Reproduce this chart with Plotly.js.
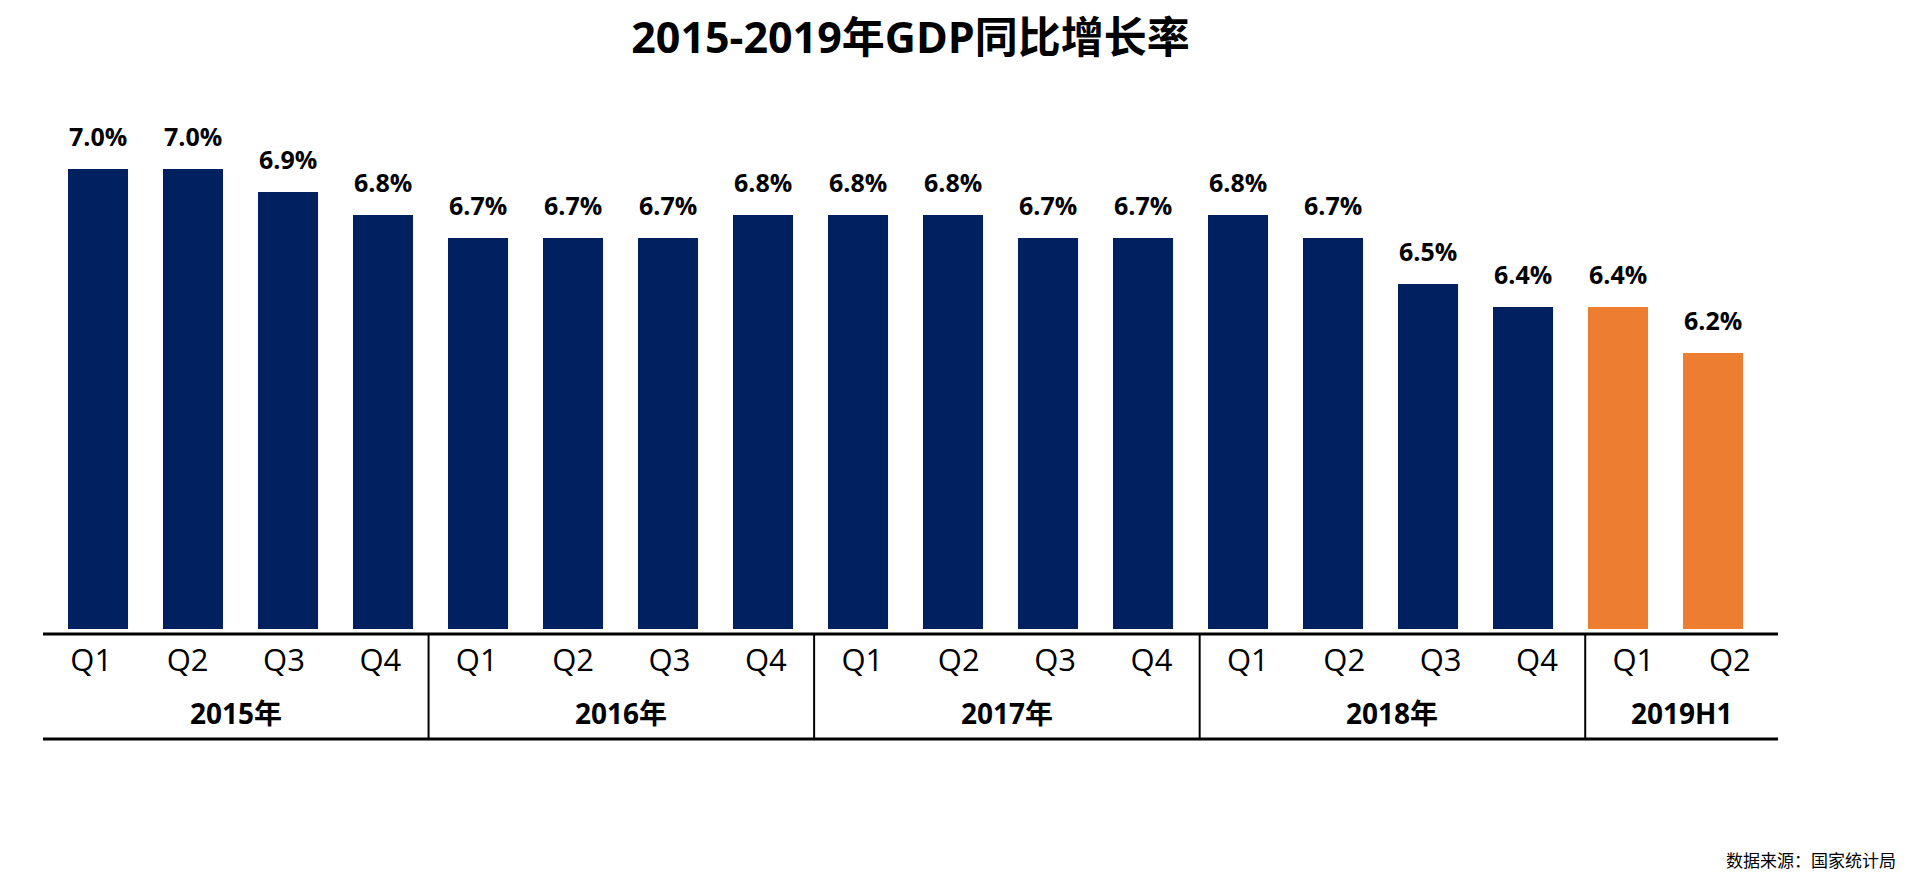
<!DOCTYPE html>
<html>
<head>
<meta charset="utf-8">
<script src="https://cdn.plot.ly/plotly-3.0.1.min.js"></script>
<style>
  html, body { margin: 0; padding: 0; background: #fff; }
  #chart { width: 1914px; height: 879px; }
</style>
</head>
<body>
<div id="chart"></div>
<script>
// 数据：季度GDP同比增长率（%）
const yearLabels = ['2015年', '2016年', '2017年', '2018年', '2019H1'];
const quartersPerYear = [4, 4, 4, 4, 2];
const quarterLabels = ['Q1', 'Q2', 'Q3', 'Q4', 'Q1', 'Q2', 'Q3', 'Q4', 'Q1', 'Q2', 'Q3', 'Q4',
                       'Q1', 'Q2', 'Q3', 'Q4', 'Q1', 'Q2'];
const growth = [7.0, 7.0, 6.9, 6.8, 6.7, 6.7, 6.7, 6.8, 6.8, 6.8, 6.7, 6.7,
                6.8, 6.7, 6.5, 6.4, 6.4, 6.2];
const highlightYear = '2019H1';

const navy = '#002060';
const orange = '#ED7D31';
const fontFamily = 'Open Sans, Noto Sans CJK SC, sans-serif';

// 每根柱子的类别键（年份+季度）与所属年份
let periods = [];
let periodYear = [];
let k = 0;
for (let i = 0; i < yearLabels.length; i++) {
  for (let j = 0; j < quartersPerYear[i]; j++) {
    periods.push(yearLabels[i] + ' ' + quarterLabels[k]);
    periodYear.push(yearLabels[i]);
    k++;
  }
}
let barColors = periodYear.map(y => (y == highlightYear ? orange : navy));
let slotIndex = periods.map((p, i) => i);

// 柱子用的x轴范围（类别序号），标签表格用均分的第二根轴
const xMin = -0.579;
const xMax = periods.length - 1 + 0.684;

var trace = {
  type: 'bar',
  x: periods,
  y: growth,
  marker: { color: barColors },
  hoverinfo: 'x+y'
};

// 柱顶数值标签
let annotations = [];
for (let i = 0; i < periods.length; i++) {
  annotations.push({
    x: periods[i],
    y: growth[i],
    xref: 'x',
    yref: 'y',
    text: '<b>' + growth[i].toFixed(1) + '%</b>',
    showarrow: false,
    yanchor: 'middle',
    yshift: 33,
    font: { family: fontFamily, size: 25, color: '#000' }
  });
}

// 年份分组：分隔线与年份标签
const lineTop = -0.0095;     // 坐标轴线
const lineBottom = -0.208;   // 底部横线
let shapes = [
  { type: 'line', xref: 'paper', yref: 'paper', x0: 0, x1: 1, y0: lineTop, y1: lineTop,
    line: { color: '#000', width: 3 } },
  { type: 'line', xref: 'paper', yref: 'paper', x0: 0, x1: 1, y0: lineBottom, y1: lineBottom,
    line: { color: '#000', width: 3 } }
];
let start = 0;
for (let i = 0; i < yearLabels.length; i++) {
  let end = start + quartersPerYear[i];
  if (i < yearLabels.length - 1) {
    shapes.push({
      type: 'line', xref: 'x2', yref: 'paper', x0: end - 0.5, x1: end - 0.5,
      y0: lineTop, y1: lineBottom, line: { color: '#000', width: 2 }
    });
  }
  annotations.push({
    x: (start + end - 1) / 2,
    y: -0.159,
    xref: 'x2',
    yref: 'paper',
    text: '<b>' + yearLabels[i] + '</b>',
    showarrow: false,
    yanchor: 'middle',
    font: { family: fontFamily, size: 28, color: '#000' }
  });
  start = end;
}

// 数据来源
annotations.push({
  x: 1.069, y: -0.435, xref: 'paper', yref: 'paper',
  xanchor: 'right', yanchor: 'middle',
  text: '数据来源：国家统计局',
  showarrow: false,
  font: { family: 'Noto Sans CJK SC, sans-serif', size: 17, color: '#000' }
});

var layout = {
  width: 1914,
  height: 879,
  margin: { l: 43, r: 136, t: 100, b: 250 },
  paper_bgcolor: '#fff',
  plot_bgcolor: '#fff',
  showlegend: false,
  bargap: 0.368,
  title: {
    text: '<b>2015-2019年GDP同比增长率</b>',
    font: { family: fontFamily, size: 43, color: '#000' },
    x: 0.5,
    xref: 'paper',
    xanchor: 'center',
    y: 1 - 38 / 879,
    yref: 'container',
    yanchor: 'middle'
  },
  xaxis: {
    type: 'category',
    range: [xMin, xMax],
    showticklabels: false,
    ticks: '',
    showline: false,
    showgrid: false,
    zeroline: false,
    fixedrange: true
  },
  // 季度标签：把坐标轴宽度均分为18格
  xaxis2: {
    overlaying: 'x',
    anchor: 'y',
    side: 'bottom',
    type: 'linear',
    range: [-0.5, periods.length - 0.5],
    tickmode: 'array',
    tickvals: slotIndex,
    ticktext: quarterLabels,
    tickfont: { family: fontFamily, size: 31, color: '#000' },
    ticklabelstandoff: 10,
    ticks: '',
    showline: false,
    showgrid: false,
    zeroline: false,
    fixedrange: true
  },
  yaxis: {
    range: [5.0, 7.3],
    visible: false,
    fixedrange: true
  },
  shapes: shapes,
  annotations: annotations
};

Plotly.newPlot('chart', [trace], layout, { displayModeBar: false, staticPlot: true });
</script>
</body>
</html>
